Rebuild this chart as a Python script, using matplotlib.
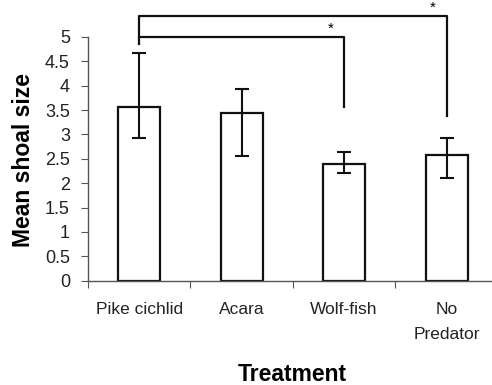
import matplotlib
matplotlib.use("Agg")
import matplotlib.pyplot as plt

categories = ["Pike cichlid", "Acara", "Wolf-fish", "No\nPredator"]
means = [3.57, 3.45, 2.40, 2.58]
err_upper = [4.67, 3.93, 2.65, 2.92]
err_lower = [2.92, 2.55, 2.21, 2.10]

plt.rcParams["font.family"] = ["Liberation Sans", "DejaVu Sans"]

fig = plt.figure(figsize=(4.92, 3.85), dpi=100)
ax = fig.add_axes([0.1789, 0.2709, 0.833, 0.633])

x = [i + 0.5 for i in range(len(categories))]
yerr = [[m - lo for m, lo in zip(means, err_lower)],
        [hi - m for m, hi in zip(means, err_upper)]]
ax.bar(x, means, width=0.41, color="white", edgecolor="#111111", linewidth=1.6, zorder=2)
ax.errorbar(x, means, yerr=yerr, fmt="none", ecolor="#111111", elinewidth=1.5,
            capsize=5, capthick=1.5, zorder=3)

# significance brackets
lw = 1.6
ax.plot([x[0], x[0], x[2], x[2]], [4.86, 5.01, 5.01, 3.56], color="#111111", lw=lw, clip_on=False)
ax.plot([x[0], x[0], x[3], x[3]], [5.01, 5.44, 5.44, 3.37], color="#111111", lw=lw, clip_on=False)
ax.text(x[2] - 0.13, 5.02, "*", ha="center", va="bottom", fontsize=11)
ax.text(x[3] - 0.14, 5.45, "*", ha="center", va="bottom", fontsize=11)

ax.set_xlim(0, 4)
ax.set_ylim(0, 5)
ax.set_yticks([0, 0.5, 1, 1.5, 2, 2.5, 3, 3.5, 4, 4.5, 5])
ax.set_yticklabels(["0", "0.5", "1", "1.5", "2", "2.5", "3", "3.5", "4", "4.5", "5"])
ax.set_xticks([0, 1, 2, 3, 4])
ax.set_xticklabels([])
ax.set_xticks(x, minor=True)
ax.set_xticklabels(categories, minor=True, fontsize=12.5, color="#222222", linespacing=1.85)
ax.tick_params(axis="x", which="minor", length=0, pad=15)
ax.tick_params(axis="x", which="major", length=5, direction="out", color="#555555")
ax.tick_params(axis="y", length=5, direction="out", color="#555555", labelsize=13, labelcolor="#222222", pad=8)

for s in ["top", "right"]:
    ax.spines[s].set_visible(False)
for s in ["left", "bottom"]:
    ax.spines[s].set_color("#555555")
    ax.spines[s].set_linewidth(1.0)

fig.text(0.047, 0.584, "Mean shoal size", ha="center", va="center", rotation=90,
         fontsize=16.5, fontweight="bold")
fig.text(0.595, 0.026, "Treatment", ha="center", va="center", fontsize=16.5, fontweight="bold")

fig.savefig("out.png", dpi=100)
